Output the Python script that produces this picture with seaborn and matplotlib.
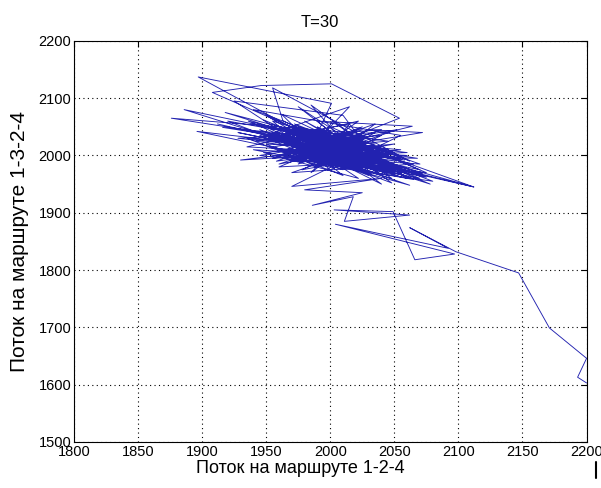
import matplotlib
matplotlib.use("Agg")
import matplotlib.pyplot as plt
import seaborn as sns
import pandas as pd
from matplotlib.lines import Line2D

# Trajectory of flows (route 1-2-4 on x, route 1-3-2-4 on y)
flow_124 = [
    2200, 2193, 2200, 2171, 2147, 2098, 2062, 2092, 2004, 2097, 2066, 2049, 2003, 2062,
    2011, 2018, 1986, 2025, 1980, 2040, 1970, 2010,
    1960, 2045, 1995, 1930, 2030, 1975, 2060, 2000, 1945, 2035, 1990, 2070, 1965, 2015,
    1876, 2005, 2050, 1970, 2025, 1950, 2040, 2010, 1897, 2001, 1985, 2055, 1940, 2020,
    1995, 2075, 1960, 2000, 2112, 1975, 2030, 1920, 2045, 1990, 1955, 2035, 1970, 2065,
    2005, 1908, 1946, 2001, 2054, 2020, 1980, 2040, 1965, 2010, 1935, 2050, 1998, 2080,
    1985, 1950, 2025, 1972, 2058, 2000, 1886, 2015, 1980, 2045, 1960, 2030, 2072, 1990,
    2064, 1990, 2035, 1945, 2008, 1968, 2055, 1912, 2020, 1995, 2048, 1975, 2000, 2062,
    1955, 1963, 2025, 1985, 2040, 1955, 2012, 2070, 1928, 2005, 1978, 2038, 1962, 2018,
    1990, 2050, 1896, 2000, 2112, 1965, 2030, 1980, 2045, 1948, 2022, 1995, 2060, 1970,
    2035, 1988, 2015, 1942, 2052, 1982, 2028, 1960, 2075, 2002, 1936, 2042, 1992, 2010,
    1975, 2068, 1916, 2000, 2038, 1968, 2020, 1985, 2055, 1952, 2030, 1998, 2045, 1975,
    2008, 1958, 2025, 1990, 2062, 1935, 2015, 1980, 2040, 1995, 2050, 1970, 2018, 1985,
    2035, 1962, 2005, 1998,
    1950, 2030, 1975, 2060, 1990, 1925, 2010, 2045, 1965, 2072, 1985, 2040, 1960, 2020,
    1940, 2055, 2000, 1955, 2035, 1970, 2065, 1995, 1918, 2025, 1980, 2050, 2005, 1945,
    2030, 1968, 2078, 2012, 1958, 2040, 1988, 2052, 1975, 2022, 1935, 2060, 1998, 1962,
    2042, 1982, 2015, 1950, 2048, 1992, 2028, 1972, 2058, 1940, 2008, 1985, 2035, 1965,
    2070, 2000, 1928, 2022, 1978, 2045, 1992, 2062, 1955, 2018, 1985, 2032, 1960, 2010,
    1948, 2055, 1995, 2025, 1970, 2040, 2002, 1980, 2050, 1995,
]
flow_1324 = [
    1603, 1613, 1646, 1699, 1795, 1832, 1874, 1838, 1880, 1828, 1818, 1902, 1905, 1896,
    1885, 1928, 1913, 1935, 1940, 1960, 1946, 1990,
    2025, 1975, 2010, 1992, 2005, 2040, 1970, 1985, 2035, 1995, 2030, 1960, 2005, 2040,
    2065, 2020, 1985, 1990, 2025, 2050, 1950, 2000, 2137, 2091, 2015, 1995, 2010, 1975,
    2045, 1970, 2000, 2035, 1945, 2020, 1965, 2060, 2010, 1995, 2040, 2020, 1970, 1985,
    2015, 2110, 2122, 2125, 2065, 2035, 2000, 1985, 2045, 1965, 2030, 2005, 2025, 1955,
    1985, 2020, 2010, 2055, 1965, 2000, 2080, 2020, 2030, 1990, 1980, 2045, 2040, 2010,
    2051, 2060, 1975, 2045, 1990, 2012, 1980, 2055, 2000, 2040, 1960, 2005, 2050, 1990,
    2118, 2061, 1990, 2025, 2015, 1995, 2030, 1975, 2040, 2005, 1975, 2000, 2035, 1980,
    2050, 1970, 2042, 2015, 1945, 2020, 1985, 2045, 2025, 2005, 1960, 2000, 2005, 2030,
    2040, 1980, 2055, 2025, 1990, 2010, 2020, 2050, 1962, 1995, 2060, 2000, 2035, 1975,
    2000, 1995, 2049, 2030, 1970, 2040, 2015, 1990, 2010, 2030, 1995, 2020, 1978, 2050,
    2005, 1990, 2045, 2018, 1975, 2045, 1995, 2025, 2035, 1985, 1998, 2015, 2025, 2040,
    1982, 2008, 2035, 2005,
    2070, 1990, 2085, 1960, 2000, 2095, 2070, 1965, 2010, 1968, 2035, 2045, 1985, 2010,
    2080, 2035, 1975, 2060, 2005, 1995, 1958, 2030, 2075, 2000, 2060, 1975, 1985, 2000,
    2030, 2028, 1950, 2012, 2048, 1972, 2022, 2045, 1985, 2060, 2015, 2000, 1992, 2072,
    1988, 2008, 2085, 2035, 1952, 2042, 1978, 2018, 1992, 2055, 2025, 1970, 2055, 2000,
    1985, 2040, 2030, 2008, 2048, 2000, 2002, 1948, 2015, 2035, 2088, 1968, 2040, 2000,
    2062, 1962, 2015, 2050, 2005, 1995, 2060, 1990, 2020, 2008,
]

df = pd.DataFrame({"x": flow_124, "y": flow_1324})

sns.set_style("white")
plt.rcParams["font.family"] = ["Liberation Sans", "DejaVu Sans"]
plt.rcParams["text.color"] = "black"

fig = plt.figure(figsize=(6.01, 4.88), dpi=100)
ax = fig.add_axes([0.123, 0.0943, 0.853, 0.822])

sns.lineplot(data=df, x="x", y="y", sort=False, estimator=None,
             color="#2222b0", linewidth=0.65, ax=ax)

ax.set_xlim(1800, 2200)
ax.set_ylim(1500, 2200)
ax.set_xticks(range(1800, 2201, 50))
ax.set_yticks(range(1500, 2201, 100))
ax.grid(True, linestyle=(0, (1, 3)), color="black", linewidth=0.8)
ax.tick_params(direction="in", top=True, right=True, length=4, width=0.8,
               labelsize=10.5, pad=2, colors="black")
for s in ax.spines.values():
    s.set_color("black")
    s.set_linewidth(0.8)

ax.set_title("T=30", fontsize=12, x=0.48, pad=10, color="black")
ax.set_xlabel("Поток на маршруте 1-2-4", fontsize=13, color="black")
ax.xaxis.set_label_coords(0.4425, -0.045, transform=ax.transAxes)
ax.get_xaxis().label.set_va("top")
ax.set_ylabel("Поток на маршруте 1-3-2-4", fontsize=15, color="black")
ax.yaxis.set_label_coords(-0.123 + 18 / 513, 0.5, transform=ax.transAxes)

# small stray mark at the lower right of the screenshot
fig.add_artist(Line2D([0.9915, 0.9915], [0.02, 0.053], color="black", linewidth=1.5))

fig.savefig("out.png", dpi=100)
